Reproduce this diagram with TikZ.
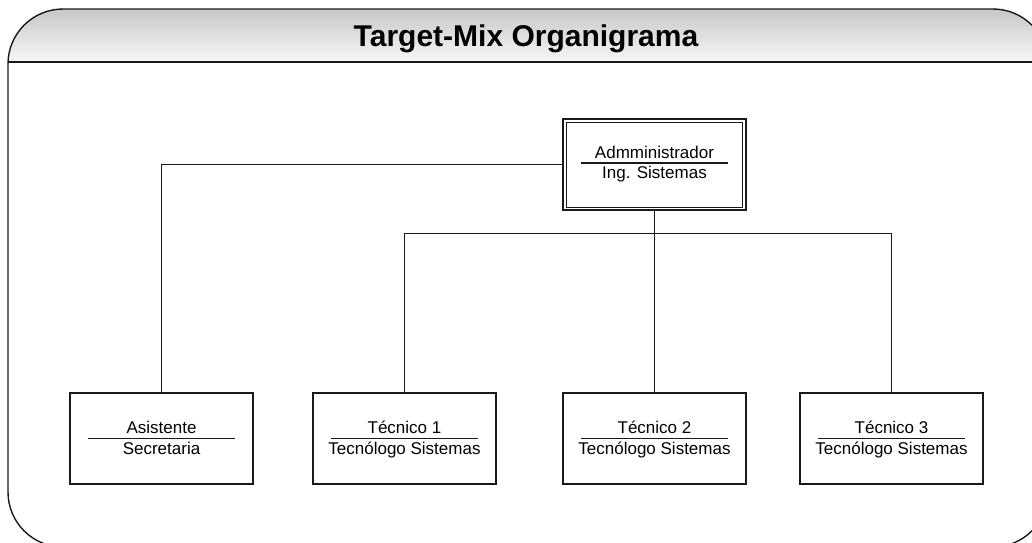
\documentclass[tikz,border=0pt]{standalone}
\usepackage{fontspec}
\setmainfont{Liberation Sans}
\begin{document}
\begin{tikzpicture}[x=1pt,y=-1pt,
  frameline/.style={line width=1.4pt,draw=black!90},
  orgbox/.style={draw=black!90,line width=1.3pt,minimum width=183pt,minimum height=91pt,inner sep=0pt,fill=white},
  conn/.style={draw=black!90,line width=1.3pt},
  orgtxt/.style={anchor=base,inner sep=0pt,font=\fontsize{17}{20}\selectfont},
  orgrule/.style={draw=black!90,line width=1.2pt}]
\useasboundingbox (0,0) rectangle (1032,542);
\clip (0,0) rectangle (1032,542);
\fill[white] (0,0) rectangle (1032,542);
% title band
\begin{scope}
  \clip[rounded corners=55pt] (8,9) rectangle (1048,547);
  \shade[top color=black!22,bottom color=black!3] (8,9) rectangle (1048,62);
\end{scope}
\draw[frameline,rounded corners=55pt] (8,9) rectangle (1048,547);
\coordinate (bandL) at (8,62);
\coordinate (bandR) at (1048,62);
\draw[frameline] (bandL) -- (bandR);
\node[anchor=base,inner sep=0pt,font=\bfseries\fontsize{30}{35}\selectfont] (title) at (526,46) {Target-Mix Organigrama};
% boxes
\node[orgbox] (adm) at (654.5,164.5) {};
\draw[conn] ([shift={(4,4)}]adm.north west) rectangle ([shift={(-4,-3)}]adm.south east);
\node[orgbox] (asis) at (161.5,438.5) {};
\node[orgbox] (tec1) at (404.5,438.5) {};
\node[orgbox] (tec2) at (654.5,438.5) {};
\node[orgbox] (tec3) at (891.5,438.5) {};
% connectors
\draw[conn] (adm.west) -| (asis.north);
\draw[conn] (adm.south) -- (tec2.north);
\draw[conn] (adm.south) -- ++(0,23) -| (tec1.north);
\draw[conn] (adm.south) -- ++(0,23) -| (tec3.north);
% texts
\node[orgtxt] (adm-a) at ([yshift=6.5pt]adm.center) {Admministrador};
\draw[orgrule] ([shift={(-73.5,-1.5)}]adm.center) -- ([shift={(73.5,-1.5)}]adm.center);
\node[orgtxt] (adm-b) at ([yshift=-14pt]adm.center) {Ing. Sistemas};
\foreach \n/\a/\b in {asis/Asistente/Secretaria,tec1/Técnico 1/Tecnólogo Sistemas,tec2/Técnico 2/Tecnólogo Sistemas,tec3/Técnico 3/Tecnólogo Sistemas}{
  \node[orgtxt] (\n-a) at ([yshift=5.5pt]\n.center) {\a};
  \draw[orgrule] ([xshift=-73.5pt]\n.center) -- ([xshift=73.5pt]\n.center);
  \node[orgtxt] (\n-b) at ([yshift=-15.5pt]\n.center) {\b};
}
\end{tikzpicture}
\end{document}
